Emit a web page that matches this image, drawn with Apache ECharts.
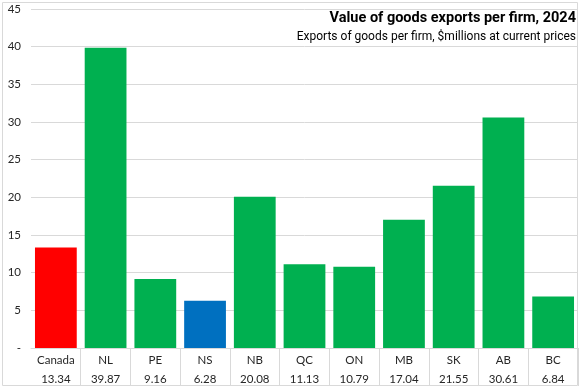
<!DOCTYPE html>
<html><head><meta charset="utf-8">
<script src="https://cdn.jsdelivr.net/npm/echarts@6/dist/echarts.min.js"></script>
<style>html,body{margin:0;padding:0;background:#fff}#c{width:580px;height:388px}</style>
</head><body><div id="c"></div>
<script>
var categories = ['Canada','NL','PE','NS','NB','QC','ON','MB','SK','AB','BC'];
var values = [13.34,39.87,9.16,6.28,20.08,11.13,10.79,17.04,21.55,30.61,6.84];
var barColors = ['#FF0000','#00B050','#00B050','#0070C0','#00B050','#00B050','#00B050','#00B050','#00B050','#00B050','#00B050'];
var yTicks = [0,5,10,15,20,25,30,35,40,45];
var titleText = 'Value of goods exports per firm, 2024';
var subtitleText = 'Exports of goods per firm, $millions at current prices';

var chart = echarts.init(document.getElementById('c'));
chart.setOption({
  animation:false,
  textStyle:{fontFamily:'Lato'},
  graphic:[{type:'rect',shape:{x:2.5,y:2.5,width:575,height:383},style:{fill:'none',stroke:'#d9d9d9',lineWidth:1},z:-1}],
  title:[
    {text:titleText, right:4, top:11, padding:0,
     textStyle:{fontFamily:'Roboto',fontSize:14.5,fontWeight:'bold',color:'#000'}},
    {text:subtitleText, right:4, top:31, padding:0,
     textStyle:{fontFamily:'Roboto',fontSize:12,fontWeight:'normal',color:'#000'}}
  ],
  grid:{left:31,right:2,top:9,bottom:40,containLabel:false},
  xAxis:{
    type:'category', data:categories,
    axisLine:{lineStyle:{color:'#d9d9d9'}},
    axisTick:{show:true,length:38,interval:function(i){return i>0;},lineStyle:{color:'#d9d9d9'}},
    axisLabel:{interval:0,margin:3,
      formatter:function(v,i){return '{n|'+v+'}\n{v|'+values[i].toFixed(2)+'}';},
      rich:{n:{fontSize:11.5,color:'#262626',lineHeight:19,fontFamily:'Lato'},v:{fontSize:11.5,color:'#262626',lineHeight:19,fontFamily:'Lato'}}
    }
  },
  yAxis:{
    type:'value', min:yTicks[0], max:yTicks[yTicks.length-1], interval:5,
    axisLine:{show:false}, axisTick:{show:false},
    splitLine:{lineStyle:{color:'#d9d9d9'}},
    axisLabel:{fontSize:11.5,color:'#262626',margin:10,formatter:function(v){return v===0?'-':String(v);}}
  },
  series:[{type:'bar',data:values.map(function(v,i){return {value:v,itemStyle:{color:barColors[i]}};}),barCategoryGap:'16%'}]
});
</script></body></html>
